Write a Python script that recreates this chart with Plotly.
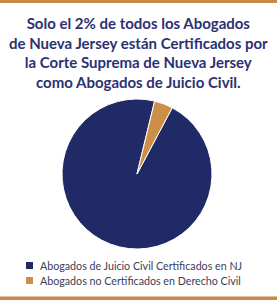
import plotly.graph_objects as go

labels = ["Abogados de Juicio Civil Certificados en NJ", "Abogados no Certificados en Derecho Civil"]
values = [96, 4]
colors = ["#1f2a66", "#cc8f48"]
title_lines = ["Solo el 2% de todos los Abogados",
               "de Nueva Jersey están Certificados por",
               "la Corte Suprema de Nueva Jersey",
               "como Abogados de Juicio Civil."]

W, H = 277, 300

fig = go.Figure()
fig.add_trace(go.Pie(
    labels=labels, values=values, sort=False, direction="clockwise", rotation=28,
    marker=dict(colors=colors, line=dict(color="white", width=1)),
    textinfo="none", hoverinfo="label+percent", showlegend=False,
    domain=dict(x=[62 / W, 212 / W], y=[1 - 249 / H, 1 - 99 / H]),
))

shapes = [
    dict(type="rect", xref="paper", yref="paper", x0=0, x1=1, y0=1 - 3 / H, y1=1,
         fillcolor="#c8894a", line=dict(width=0)),
    dict(type="rect", xref="paper", yref="paper", x0=0, x1=1, y0=0, y1=3.5 / H,
         fillcolor="#c8894a", line=dict(width=0)),
]
annotations = [dict(
    text="<b>" + "<br>".join(title_lines) + "</b>", xref="paper", yref="paper", x=0.5, y=1 - 12 / H,
    xanchor="center", yanchor="top", showarrow=False, align="center",
    font=dict(family="Lato", size=15, color="#2b3172"),
)]
leg_y = [265.5, 280.5]
for lab, col, yy in zip(labels, colors, leg_y):
    shapes.append(dict(type="rect", xref="paper", yref="paper",
                       x0=26 / W, x1=33 / W, y0=1 - (yy + 3.5) / H, y1=1 - (yy - 3.5) / H,
                       fillcolor=col, line=dict(width=0)))
    annotations.append(dict(text=lab, xref="paper", yref="paper", x=38 / W, y=1 - yy / H,
                            xanchor="left", yanchor="middle", showarrow=False,
                            font=dict(family="Lato", size=10.7, color="#3d4058")))

fig.update_layout(width=W, height=H, margin=dict(l=0, r=0, t=0, b=0),
                  paper_bgcolor="white", plot_bgcolor="white",
                  shapes=shapes, annotations=annotations)
fig.write_html("out.html")
